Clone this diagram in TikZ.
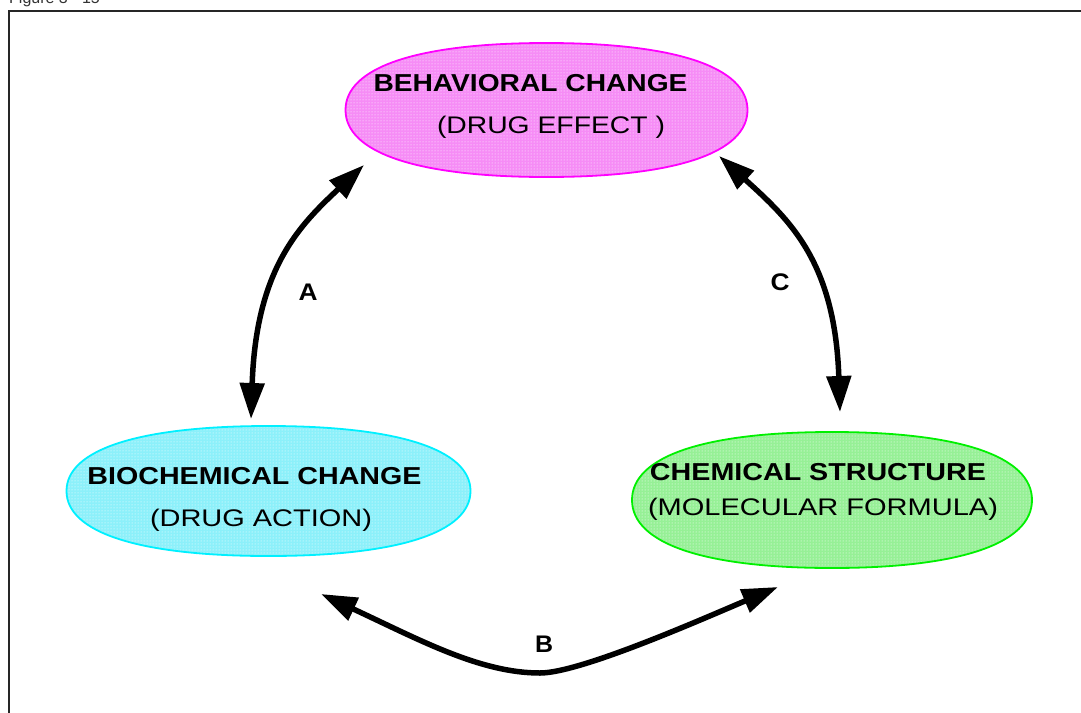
\documentclass[tikz,border=0pt]{standalone}
\usepackage{fontspec}
\setmainfont{Liberation Sans}
\usetikzlibrary{arrows.meta,patterns}
% stretch a line of text to a fixed width, keeping its height
\newcommand{\fitw}[2]{\resizebox{#1}{\height}{#2}}
% rounded oval, a little squarer than an ellipse: style, cx, cy, rx, ry
\newcommand{\stateoval}[5]{%
  \path[#1] (#2+#4,#3)
    .. controls (#2+#4,#3-0.64*#5) and (#2+0.64*#4,#3-#5) .. (#2,#3-#5)
    .. controls (#2-0.64*#4,#3-#5) and (#2-#4,#3-0.64*#5) .. (#2-#4,#3)
    .. controls (#2-#4,#3+0.64*#5) and (#2-0.64*#4,#3+#5) .. (#2,#3+#5)
    .. controls (#2+0.64*#4,#3+#5) and (#2+#4,#3+0.64*#5) .. (#2+#4,#3)
    -- cycle;}
\definecolor{pinkline}{RGB}{255,0,255}
\definecolor{cyanline}{RGB}{0,240,255}
\definecolor{greenline}{RGB}{0,240,0}
\definecolor{pinkfill}{RGB}{246,140,246}
\definecolor{cyanfill}{RGB}{140,240,250}
\definecolor{greenfill}{RGB}{150,240,150}

\begin{document}
\begin{tikzpicture}[x=1pt,y=-1pt,
  blob/.style={line width=1.8pt,pattern=dots,pattern color=white},
  headline/.style={inner sep=0pt,font=\fontsize{24.5}{24.5}\selectfont\bfseries},
  subline/.style={inner sep=0pt,font=\fontsize{24}{24}\selectfont},
  tag/.style={inner sep=0pt,font=\fontsize{24}{24}\selectfont\bfseries},
  link/.style={line width=5.5pt,{Triangle[length=36pt,width=24pt]}-{Triangle[length=36pt,width=24pt]}}]

\useasboundingbox (0,0) rectangle (1081,712);

% partly cut caption above the frame
\begin{scope}
  \clip (0,0) rectangle (400,6.5);
  \node[anchor=base west,inner sep=0pt,font=\fontsize{16}{16}\selectfont,text=black!80] (cap) at (9,3.5) {Figure 3 - 15};
\end{scope}

% frame
\draw[line width=2.2pt,black!85] (9,11) rectangle (1100,730);

% the three states
\stateoval{blob,draw=pinkline,preaction={fill=pinkfill}}{546.5}{110}{201}{67}
\stateoval{blob,draw=cyanline,preaction={fill=cyanfill}}{268.5}{491}{202}{65}
\stateoval{blob,draw=greenline,preaction={fill=greenfill}}{832}{500}{200}{68}

\node[headline] (behavT) at (530.5,83) {\fitw{314pt}{BEHAVIORAL CHANGE}};
\node[subline]  (behavS) at (551,127) {\fitw{228pt}{(DRUG EFFECT )}};
\node[headline] (bioT)   at (254.5,476) {\fitw{334pt}{BIOCHEMICAL CHANGE}};
\node[subline]  (bioS)   at (261,520) {\fitw{222pt}{(DRUG ACTION)}};
\node[headline] (chemT)  at (818,472) {\fitw{336pt}{CHEMICAL STRUCTURE}};
\node[subline]  (chemS)  at (823,509) {\fitw{350pt}{(MOLECULAR FORMULA)}};

% ends of the connectors
\coordinate (a1) at (364,165);
\coordinate (a2) at (251,419);
\coordinate (c1) at (719,156);
\coordinate (c2) at (840,412);
\coordinate (b1) at (321,594);
\coordinate (bm) at (540,673);
\coordinate (b2) at (778,587);

\draw[link] (a1) .. controls (300,225) and (256,268) .. (a2);
\draw[link] (c1) .. controls (790,220) and (835,262) .. (c2);
\draw[link] (b1) .. controls (420,640) and (480,673) .. (bm)
                 .. controls (580,673) and (700,620) .. (b2);

\node[tag] (A) at (308,292) {\fitw{19pt}{A}};
\node[tag] (C) at (780,282) {\fitw{19pt}{C}};
\node[tag] (B) at (544,644) {\fitw{18pt}{B}};
\end{tikzpicture}
\end{document}
